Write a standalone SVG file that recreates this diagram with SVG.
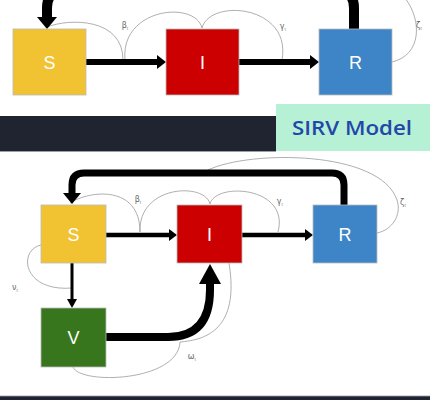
<svg xmlns="http://www.w3.org/2000/svg" width="430" height="400" viewBox="0 0 430 400">
<style>
.node{stroke:#bbbbbb;stroke-width:0.8}
.nl{font-family:"Liberation Sans",Arial,sans-serif;font-size:18px;fill:#ffffff;text-anchor:middle}
.thick{fill:none;stroke:#000000}
.ah{fill:#000000}
.thin{fill:none;stroke:#9a9a9a;stroke-width:0.8}
.gl{font-family:"DejaVu Sans",sans-serif;font-size:8px;fill:#666666;text-anchor:middle}
.sub{font-size:4px}
</style>
<rect x="0" y="0" width="430" height="400" fill="#ffffff"/>
<g id="band">
<rect x="0" y="116" width="276" height="35" fill="#1f2430"/>
<line x1="0" y1="151.5" x2="276" y2="151.5" stroke="#9aa0a8" stroke-width="1"/>
<rect x="276" y="104" width="154" height="47" fill="#b6f0d5"/>
<text x="352" y="135" font-family="'Open Sans',sans-serif" font-size="19" font-weight="600" fill="#2347a8" text-anchor="middle" textLength="120" lengthAdjust="spacingAndGlyphs">SIRV Model</text>
<rect x="0" y="396" width="430" height="4" fill="#1f2430"/>
<line x1="0" y1="396" x2="430" y2="396" stroke="#9aa0a8" stroke-width="0.8"/>
</g>
<g id="connectors">
<!-- top diagram -->
<path class="thin" d="M47 27 C70 18 123 18 123 60"/>
<path class="thin" d="M125 60 C120 8 195 0 202 28"/>
<path class="thin" d="M202 28 C210 -2 292 5 282 60"/>
<path class="thin" d="M392 62 C422 55 422 20 405 -2"/>
<path class="thick" stroke-width="10" d="M354 29 V8 Q354 -8 340 -8 H61 Q47 -8 47 8 V18"/>
<polygon class="ah" points="37,17 57,17 47,29"/>
<line class="thick" stroke-width="6" x1="86" y1="62" x2="158" y2="62"/>
<polygon class="ah" points="157,55 166,62 157,69"/>
<line class="thick" stroke-width="6" x1="239" y1="62" x2="311" y2="62"/>
<polygon class="ah" points="310,55 319,62 310,69"/>
<!-- bottom diagram -->
<path class="thin" d="M70 203 C90 190 140 185 140 232"/>
<path class="thin" d="M140 232 C138 185 205 182 210 204"/>
<path class="thin" d="M210 204 C215 182 290 186 278 232"/>
<path class="thin" d="M208 170 C250 150 380 150 397 200 C402 215 392 230 377 233"/>
<path class="thin" d="M41 245 C18 250 22 292 72 288"/>
<path class="thin" d="M73 367 C80 385 178 382 180 342"/>
<path class="thin" d="M180 342 C205 340 240 330 229 263"/>
<path class="thick" stroke-width="7" d="M344 205 V185 Q344 173 332 173 H84 Q72 173 72 185 V194"/>
<polygon class="ah" points="63,193 81,193 72,204"/>
<line class="thick" stroke-width="4.5" x1="106" y1="235" x2="170" y2="235"/>
<polygon class="ah" points="169,229 177,235 169,241"/>
<line class="thick" stroke-width="4.5" x1="242" y1="235" x2="306" y2="235"/>
<polygon class="ah" points="305,229 313,235 305,241"/>
<line class="thick" stroke-width="3" x1="72" y1="263" x2="72" y2="300"/>
<polygon class="ah" points="67,299 77,299 72,308"/>
<path class="thick" stroke-width="8" d="M106 337 H168 Q210 337 210 290 V283"/>
<polygon class="ah" points="199,284 221,284 210,264"/>
</g>
<g id="labels">
<text class="gl" x="125" y="28">β<tspan class="sub" dy="2">t</tspan></text>
<text class="gl" x="283" y="29">γ<tspan class="sub" dy="2">t</tspan></text>
<text class="gl" x="419" y="28">ζ<tspan class="sub" dy="2">t</tspan></text>
<text class="gl" x="138" y="202">β<tspan class="sub" dy="2">t</tspan></text>
<text class="gl" x="280" y="204">γ<tspan class="sub" dy="2">t</tspan></text>
<text class="gl" x="403" y="205">ζ<tspan class="sub" dy="2">t</tspan></text>
<text class="gl" x="15" y="290">ν<tspan class="sub" dy="2">t</tspan></text>
<text class="gl" x="192" y="359">ω<tspan class="sub" dy="2">t</tspan></text>
</g>
<g id="node-S-top"><rect class="node" x="13" y="29" width="73" height="66" fill="#f1c232"/><text class="nl" x="49.5" y="68.5">S</text></g>
<g id="node-I-top"><rect class="node" x="166" y="29" width="73" height="66" fill="#cc0000"/><text class="nl" x="202.5" y="68.5">I</text></g>
<g id="node-R-top"><rect class="node" x="319" y="29" width="73" height="66" fill="#3d85c6"/><text class="nl" x="355.5" y="68.5">R</text></g>
<g id="node-S"><rect class="node" x="41" y="205" width="65" height="58" fill="#f1c232"/><text class="nl" x="73.5" y="240.5">S</text></g>
<g id="node-I"><rect class="node" x="177" y="205" width="65" height="58" fill="#cc0000"/><text class="nl" x="209.5" y="240.5">I</text></g>
<g id="node-R"><rect class="node" x="313" y="205" width="64" height="58" fill="#3d85c6"/><text class="nl" x="345" y="240.5">R</text></g>
<g id="node-V"><rect class="node" x="41" y="308" width="65" height="59" fill="#38761d"/><text class="nl" x="73.5" y="344">V</text></g>
</svg>
